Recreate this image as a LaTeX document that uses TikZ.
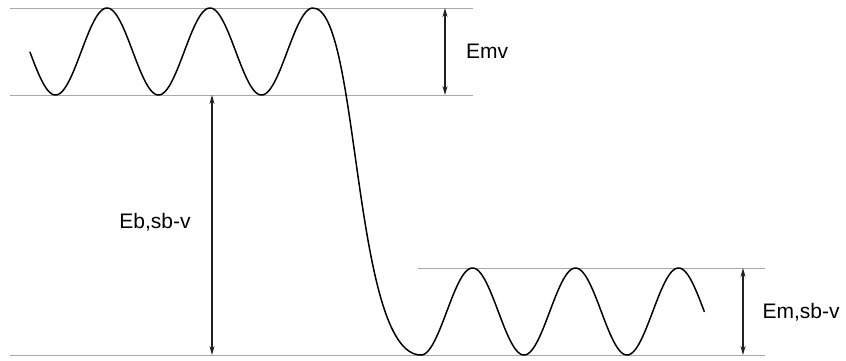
\documentclass[tikz,border=0pt]{standalone}
\usepackage{fontspec}
\setmainfont{Liberation Sans}
\usetikzlibrary{arrows.meta}
\definecolor{levelgray}{HTML}{A8A8A8}
\definecolor{arrowgray}{HTML}{202020}
\tikzset{
  level/.style={draw=levelgray, line width=1pt},
  dim/.style={draw=arrowgray, line width=1.2pt, {Stealth[length=9pt,width=5pt,inset=3pt]}-{Stealth[length=9pt,width=5pt,inset=3pt]}},
  wave/.style={draw=black, line width=1.5pt, line join=round, line cap=round},
  lbl/.style={font=\fontsize{21}{25}\selectfont, inner sep=0pt, text=black}
}
\begin{document}
\begin{tikzpicture}[x=1pt,y=-1pt]
\useasboundingbox (0,0) rectangle (846,360);
% level lines
\coordinate (l1a) at (10,8);   \coordinate (l1b) at (473,8);
\coordinate (l2a) at (10,95);  \coordinate (l2b) at (473,95);
\coordinate (l3a) at (10,355); \coordinate (l3b) at (765,355);
\coordinate (l4a) at (418,268);\coordinate (l4b) at (765,268);
\draw[level] (l1a) -- (l1b);
\draw[level] (l2a) -- (l2b);
\draw[level] (l3a) -- (l3b);
\draw[level] (l4a) -- (l4b);
% potential curve
\draw[wave] plot[domain=30:313, samples=200, smooth] (\x,{51.5+43.5*cos((\x-55.5)*3.49515)})
  .. controls (360,8) and (352,355) .. (421,355)
  -- plot[domain=421:704.25, samples=200, smooth] (\x,{311.5+43.5*cos((\x-421)*3.49515)});
% dimension arrows
\coordinate (emvT) at (445,8);  \coordinate (emvB) at (445,95);
\coordinate (ebT) at (212,95);  \coordinate (ebB) at (212,355);
\coordinate (emT) at (743,268); \coordinate (emB) at (743,355);
\draw[dim] (emvT) -- (emvB);
\draw[dim] (ebT) -- (ebB);
\draw[dim] (emT) -- (emB);
% labels
\node[lbl] (emv) at (487,51) {Emv};
\node[lbl] (eb) at (155,222) {Eb,sb-v};
\node[lbl] (em) at (801,312) {Em,sb-v};
\end{tikzpicture}
\end{document}
